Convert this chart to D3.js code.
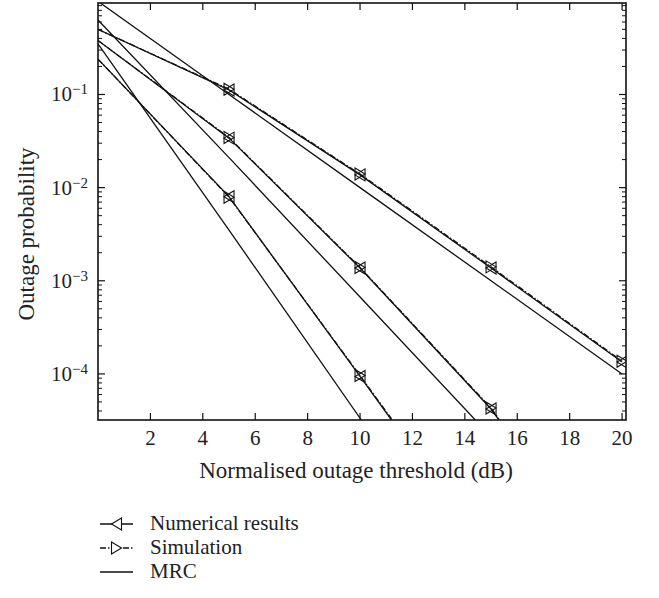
<!DOCTYPE html>
<html>
<head>
<meta charset="utf-8">
<script src="https://cdnjs.cloudflare.com/ajax/libs/d3/7.8.5/d3.min.js"></script>
<style>
  body { margin: 0; background: #fff; }
  svg { display: block; }
  text { font-family: "Liberation Serif", "DejaVu Serif", serif; fill: #222; }
</style>
</head>
<body>
<svg id="svg" width="659" height="598"></svg>
<script>
// x values (dB) for each group of curves
var xA = [0, 5, 10, 15, 20];
var xB = [0, 5, 10, 15, 15.3];
var xC = [0, 5, 10, 11.2];
var xMrcB = [0, 5, 10, 14.4];
var xMrcC = [0, 5, 10.05];

// outage probabilities
var numA = [0.50, 0.112, 0.0137, 1.37e-3, 1.34e-4];
var simA = [0.50, 0.114, 0.0140, 1.41e-3, 1.37e-4];
var mrcA = [1.0, 0.1, 0.01, 1.0e-3, 1.0e-4];

var numB = [0.38, 0.034, 1.37e-3, 4.2e-5, 3.2e-5];
var simB = [0.38, 0.0345, 1.39e-3, 4.3e-5, 3.3e-5];
var mrcB = [0.63, 0.021, 6.7e-4, 3.2e-5];

var numC = [0.24, 8.0e-3, 9.4e-5, 3.2e-5];
var simC = [0.24, 7.9e-3, 9.6e-5, 3.3e-5];
var mrcC = [0.35, 3.5e-3, 3.2e-5];

var markerDb = [5, 10, 15, 20];
var xTicks = [2, 4, 6, 8, 10, 12, 14, 16, 18, 20];
var yTicks = [1e-1, 1e-2, 1e-3, 1e-4];
var yTickExp = ['\u22121', '\u22122', '\u22123', '\u22124'];
var legendLabels = ['Numerical results', 'Simulation', 'MRC'];

var pLeft = 98, pTop = 3, pRight = 626, pBottom = 420;

var svg = d3.select('svg');

var x = d3.scaleLinear().domain([0, 20.15]).range([pLeft, pRight]);
var y = d3.scaleLog().domain([3.2e-5, 0.96]).range([pBottom, pTop]);

function pairs(xs, ys) {
    return xs.map(function (v, i) { return [v, ys[i]]; });
}

var series = [
    {pts: pairs(xA, numA), kind: 'num'},
    {pts: pairs(xA, simA), kind: 'sim'},
    {pts: pairs(xA, mrcA), kind: 'mrc'},
    {pts: pairs(xB, numB), kind: 'num'},
    {pts: pairs(xB, simB), kind: 'sim'},
    {pts: pairs(xMrcB, mrcB), kind: 'mrc'},
    {pts: pairs(xC, numC), kind: 'num'},
    {pts: pairs(xC, simC), kind: 'sim'},
    {pts: pairs(xMrcC, mrcC), kind: 'mrc'}
];

svg.append('clipPath').attr('id', 'clip')
    .append('rect')
    .attr('x', pLeft).attr('y', pTop)
    .attr('width', pRight - pLeft).attr('height', pBottom - pTop);

var line = d3.line()
    .x(function (d) { return x(d[0]); })
    .y(function (d) { return y(d[1]); });

var plot = svg.append('g').attr('clip-path', 'url(#clip)');

plot.selectAll('path.curve')
    .data(series)
    .enter()
    .append('path')
    .attr('class', 'curve')
    .attr('d', function (d) { return line(d.pts); })
    .attr('fill', 'none')
    .attr('stroke', '#111')
    .attr('stroke-width', 1.3)
    .attr('stroke-dasharray', function (d) { return d.kind == 'sim' ? '6,2,1.5,2' : null; });

// triangle markers: left for numerical, right for simulation
function tri(dir) {
    var w = 5, h = 6;
    if (dir == 'left') return 'M' + (-w) + ',0L' + w + ',' + (-h) + 'L' + w + ',' + h + 'Z';
    return 'M' + w + ',0L' + (-w) + ',' + (-h) + 'L' + (-w) + ',' + h + 'Z';
}

series.forEach(function (s) {
    if (s.kind == 'mrc') return;
    var pts = s.pts.filter(function (p) { return markerDb.indexOf(p[0]) >= 0; });
    plot.selectAll(null)
        .data(pts)
        .enter()
        .append('path')
        .attr('transform', function (d) { return 'translate(' + x(d[0]) + ',' + y(d[1]) + ')'; })
        .attr('d', tri(s.kind == 'num' ? 'left' : 'right'))
        .attr('fill', 'none')
        .attr('stroke', '#111')
        .attr('stroke-width', 1.1);
});

// axes: ticks pointing inwards on all four sides
var axes = svg.append('g').attr('stroke', '#111');

[pBottom, pTop].forEach(function (edge) {
    var sgn = edge == pBottom ? -1 : 1;
    axes.selectAll(null)
        .data(xTicks)
        .enter()
        .append('line')
        .attr('x1', function (d) { return x(d); }).attr('x2', function (d) { return x(d); })
        .attr('y1', edge).attr('y2', edge + sgn * 7)
        .attr('stroke-width', 1.2);
});

var minor = [];
[1e-5, 1e-4, 1e-3, 1e-2, 1e-1].forEach(function (dec) {
    for (var k = 2; k <= 9; k++) {
        var v = dec * k;
        if (v >= y.domain()[0] && v <= y.domain()[1]) minor.push(v);
    }
});

[pLeft, pRight].forEach(function (edge) {
    var sgn = edge == pLeft ? 1 : -1;
    axes.selectAll(null)
        .data(yTicks)
        .enter()
        .append('line')
        .attr('x1', edge).attr('x2', edge + sgn * 7)
        .attr('y1', function (d) { return y(d); }).attr('y2', function (d) { return y(d); })
        .attr('stroke-width', 1.2);
    axes.selectAll(null)
        .data(minor)
        .enter()
        .append('line')
        .attr('x1', edge).attr('x2', edge + sgn * 4)
        .attr('y1', function (d) { return y(d); }).attr('y2', function (d) { return y(d); })
        .attr('stroke-width', 1);
});

svg.append('rect')
    .attr('x', pLeft).attr('y', pTop)
    .attr('width', pRight - pLeft).attr('height', pBottom - pTop)
    .attr('fill', 'none')
    .attr('stroke', '#111')
    .attr('stroke-width', 1.6);

// tick labels
svg.selectAll('text.xl')
    .data(xTicks)
    .enter()
    .append('text')
    .attr('x', function (d) { return x(d); })
    .attr('y', 445)
    .attr('text-anchor', 'middle')
    .attr('font-size', 21)
    .text(function (d) { return d; });

var yl = svg.selectAll('text.yl')
    .data(yTicks)
    .enter()
    .append('text')
    .attr('x', 88)
    .attr('y', function (d) { return y(d) + 7; })
    .attr('text-anchor', 'end')
    .attr('font-size', 21);
yl.append('tspan').text('10');
yl.append('tspan')
    .attr('dy', -7)
    .attr('font-size', 15)
    .text(function (d, i) { return yTickExp[i]; });

svg.append('text')
    .attr('x', 356).attr('y', 478)
    .attr('text-anchor', 'middle')
    .attr('font-size', 23)
    .text('Normalised outage threshold (dB)');

svg.append('text')
    .attr('transform', 'translate(34,234) rotate(-90)')
    .attr('text-anchor', 'middle')
    .attr('font-size', 23)
    .text('Outage probability');

// legend
var legendY = [524, 548, 572];
var kinds = ['num', 'sim', 'mrc'];
var leg = svg.append('g');
kinds.forEach(function (k, i) {
    leg.append('line')
        .attr('x1', 100).attr('x2', 133)
        .attr('y1', legendY[i]).attr('y2', legendY[i])
        .attr('stroke', '#111')
        .attr('stroke-width', 1.3)
        .attr('stroke-dasharray', k == 'sim' ? '6,2,1.5,2' : null);
    if (k != 'mrc') {
        leg.append('path')
            .attr('transform', 'translate(116.5,' + legendY[i] + ')')
            .attr('d', tri(k == 'num' ? 'left' : 'right'))
            .attr('fill', '#fff')
            .attr('stroke', '#111')
            .attr('stroke-width', 1.1);
    }
    leg.append('text')
        .attr('x', 150).attr('y', legendY[i] + 6)
        .attr('font-size', 21)
        .text(legendLabels[i]);
});
</script>
</body>
</html>
